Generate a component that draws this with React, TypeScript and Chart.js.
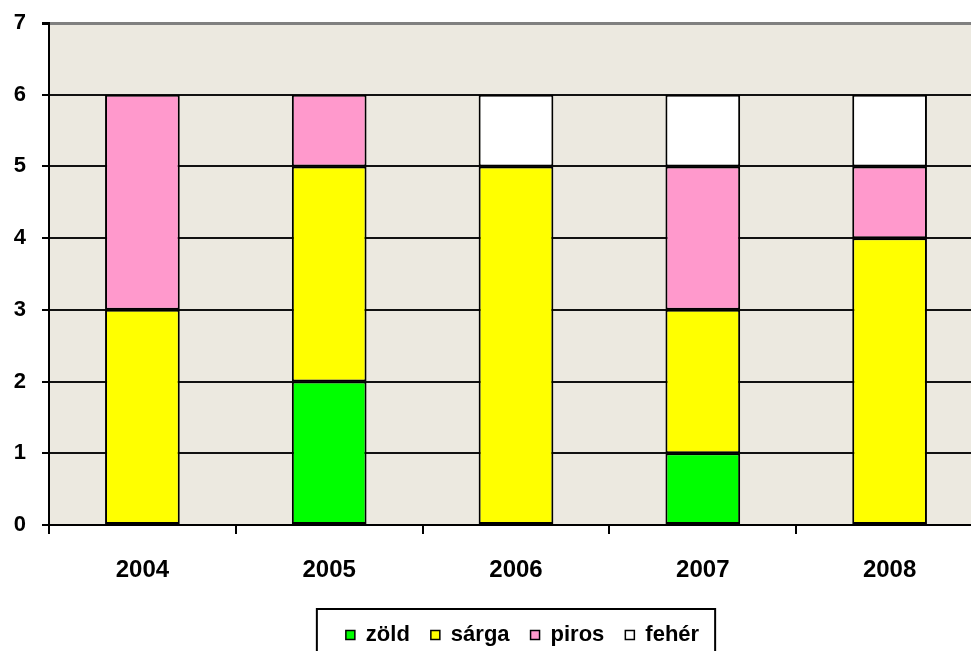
import React, { useEffect, useRef } from "react";
import { Chart, registerables } from "chart.js";

Chart.register(...registerables);

const categories = ["2004", "2005", "2006", "2007", "2008"];
const zold = [0, 2, 0, 1, 0];
const sarga = [3, 3, 5, 2, 4];
const piros = [3, 1, 0, 2, 1];
const feher = [0, 0, 1, 1, 1];
const seriesNames = ["zöld", "sárga", "piros", "fehér"];
const seriesColors = ["#00FF00", "#FFFF00", "#FF99CC", "#FFFFFF"];
const yTicks = [0, 1, 2, 3, 4, 5, 6, 7];

const FONT = "'Liberation Sans', Arial, sans-serif";

const plotBg = {
  id: "plotBg",
  beforeDraw(chart: any) {
    const { ctx, chartArea } = chart;
    if (!chartArea) return;
    ctx.save();
    ctx.fillStyle = "#ECE9E0";
    ctx.fillRect(chartArea.left, chartArea.top, chartArea.right - chartArea.left, chartArea.bottom - chartArea.top);
    ctx.restore();
  },
};

const legendShift = {
  id: "legendShift",
  afterLayout(chart: any) {
    const lg = chart.legend;
    if (!lg) return;
    lg.left += 31;
    lg.right += 31;
  },
};

const legendBox = {
  id: "legendBox",
  afterDraw(chart: any) {
    const lg = chart.legend;
    if (!lg || !lg.legendHitBoxes || !lg.legendHitBoxes.length) return;
    const hb = lg.legendHitBoxes;
    const left = Math.min(...hb.map((h: any) => h.left));
    const right = Math.max(...hb.map((h: any) => h.left + h.width));
    const cy = hb[0].top + hb[0].height / 2;
    const { ctx } = chart;
    ctx.save();
    ctx.strokeStyle = "#000";
    ctx.lineWidth = 2;
    ctx.strokeRect(left - 29, cy - 26, right - left + 45, 60);
    ctx.restore();
  },
};

export default function App() {
  const canvasRef = useRef<HTMLCanvasElement | null>(null);

  useEffect(() => {
    document.body.style.margin = "0";
    const canvas = canvasRef.current;
    if (!canvas) return;
    const seriesData = [zold, sarga, piros, feher];
    const chart = new Chart(canvas, {
      type: "bar",
      data: {
        labels: categories,
        datasets: seriesNames.map((name, i) => ({
          label: name,
          data: seriesData[i],
          backgroundColor: seriesColors[i],
          borderColor: "#000",
          borderWidth: 2,
          borderSkipped: false,
          barPercentage: 0.4,
          categoryPercentage: 1,
        })),
      },
      options: {
        responsive: false,
        animation: false,
        layout: { padding: { top: 23, right: 7, bottom: 0, left: 0 } },
        plugins: {
          tooltip: { enabled: false },
          legend: {
            position: "bottom",
            labels: {
              boxWidth: 9,
              boxHeight: 9,
              padding: 21,
              color: "#000",
              font: { family: FONT, size: 22, weight: "bold" },
              generateLabels: (chart: any) =>
                Chart.defaults.plugins.legend.labels.generateLabels(chart).map((it: any) => ({
                  ...it,
                  lineWidth: 1.5,
                  strokeStyle: "#000",
                })),
            },
          },
        },
        scales: {
          x: {
            stacked: true,
            grid: {
              offset: true,
              drawOnChartArea: false,
              drawTicks: true,
              tickLength: 9,
              color: "#000",
              lineWidth: 2,
            },
            border: { display: true, color: "#000", width: 2 },
            ticks: {
              padding: 22,
              color: "#000",
              font: { family: FONT, size: 24, weight: "bold" },
            },
            afterFit: (s: any) => {
              s.height = 78;
            },
          },
          y: {
            stacked: true,
            min: 0,
            max: 7,
            afterBuildTicks: (s: any) => {
              s.ticks = yTicks.map((v) => ({ value: v }));
            },
            ticks: {
              padding: 16,
              color: "#000",
              font: { family: FONT, size: 22, weight: "bold" },
            },
            grid: {
              color: (ctx: any) => (ctx.tick && ctx.tick.value === 7 ? "#808080" : "#111"),
              lineWidth: (ctx: any) => (ctx.tick && ctx.tick.value === 7 ? 3 : 2),
              tickLength: 7,
              tickColor: "#000",
            },
            border: { color: "#000", width: 2 },
            afterFit: (s: any) => {
              s.width = 49;
              s.paddingTop = 0;
              s.paddingBottom = 0;
            },
          },
        },
      } as any,
      plugins: [plotBg, legendShift, legendBox],
    });
    return () => chart.destroy();
  }, []);

  return (
    <div style={{ width: 971, height: 651, overflow: "hidden", position: "relative", background: "#fff" }}>
      <canvas ref={canvasRef} width={990} height={656} style={{ display: "block", width: 990, height: 656 }} />
    </div>
  );
}
